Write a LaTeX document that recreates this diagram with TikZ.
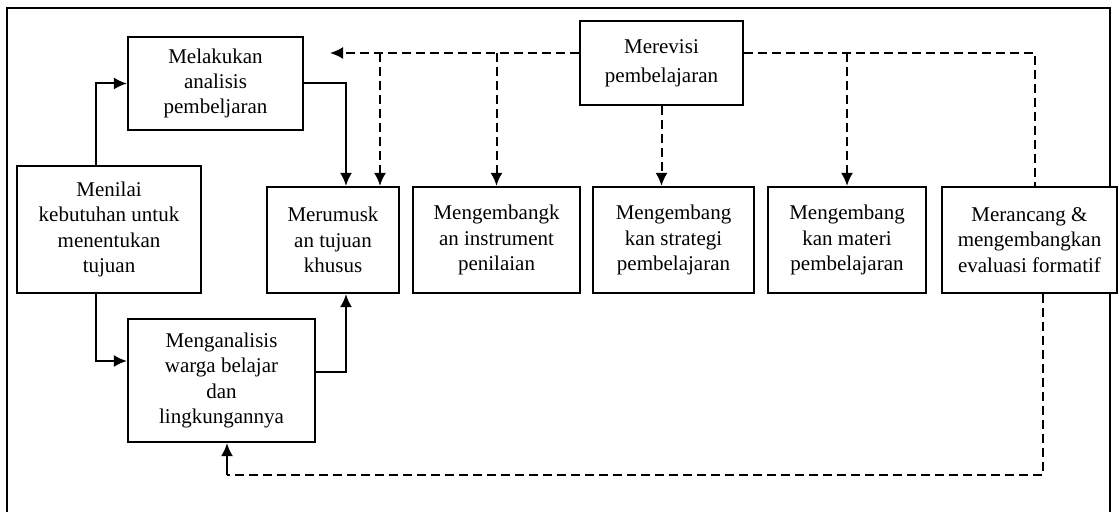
\documentclass[tikz,border=0pt]{standalone}
\usepackage{fontspec}
\setmainfont{Liberation Serif}
\usetikzlibrary{arrows.meta}

\begin{document}
\begin{tikzpicture}[x=0.5pt, y=-0.5pt, >={Latex[length=6.5pt,width=6pt]},
    box/.style={rectangle, draw, fill=white, line width=1.1pt, align=center, inner sep=0pt,
      font=\fontsize{10.5pt}{12.7pt}\selectfont},
    link/.style={line width=1pt},
    revline/.style={line width=1pt, dash pattern=on 4.5pt off 2.5pt}]

    \useasboundingbox (0,0) rectangle (1119,512);

    % Outer frame (open at the bottom)
    \draw[line width=0.8pt] (7,512) -- (7,8) -- (1110,8) -- (1110,512);

    % Boxes
    \node[box, minimum width=87.5pt, minimum height=46.5pt] (analisis) at (215.5,83.5) {Melakukan\\analisis\\pembeljaran};
    \node[box, minimum width=81.5pt, minimum height=42pt] (revisi) at (661.5,63) {Merevisi\\[2pt]pembelajaran};
    \node[box, minimum width=92pt, minimum height=63.5pt] (menilai) at (109,229.5) {Menilai\\kebutuhan untuk\\menentukan\\tujuan};
    \node[box, minimum width=66pt, minimum height=53pt] (tujuan) at (333,240) {Merumusk\\an tujuan\\khusus};
    \node[box, minimum width=83.5pt, minimum height=53pt] (instrumen) at (496.5,240) {Mengembangk\\an instrument\\penilaian};
    \node[box, minimum width=80.5pt, minimum height=53pt] (strategi) at (673.5,240) {Mengembang\\kan strategi\\pembelajaran};
    \node[box, minimum width=79pt, minimum height=53pt] (materi) at (847,240) {Mengembang\\kan materi\\pembelajaran};
    \node[box, minimum width=87.5pt, minimum height=53pt] (evaluasi) at (1029.5,240) {Merancang \&\\mengembangkan\\evaluasi formatif};
    \node[box, minimum width=93.5pt, minimum height=61.5pt] (warga) at (221.5,380.5) {Menganalisis\\warga belajar\\dan\\lingkungannya};

    \coordinate (revisiend) at (330,53);
    \coordinate (loopbase) at (227,475);

    % Solid flow
    \draw[link, ->] ([xshift=-6.5pt]menilai.north) |- (analisis.west);
    \draw[link, ->] (analisis.east) -| ([xshift=6.5pt]tujuan.north);
    \draw[link, ->] ([xshift=-6.5pt]menilai.south) |- ([yshift=9.75pt]warga.west);
    \draw[link, ->] ([yshift=4.25pt]warga.east) -| ([xshift=6.5pt]tujuan.south);

    % Revision lines (dashed)
    \draw[revline, ->] ([yshift=5pt]revisi.west) -- (revisiend);
    \draw[revline, ->] ([xshift=23.5pt]tujuan.north |- revisiend) -- ([xshift=23.5pt]tujuan.north);
    \draw[revline, ->] (instrumen.north |- revisiend) -- (instrumen.north);
    \draw[revline, ->] (revisi.south) -- (revisi.south |- strategi.north);
    \draw[revline] ([yshift=5pt]revisi.east) -| ([xshift=2.75pt]evaluasi.north);
    \draw[revline, ->] (materi.north |- revisiend) -- (materi.north);
    \draw[revline] ([xshift=6.75pt]evaluasi.south) |- (loopbase);
    \draw[link, ->] (loopbase) -- ([xshift=2.75pt]warga.south);
\end{tikzpicture}
\end{document}
